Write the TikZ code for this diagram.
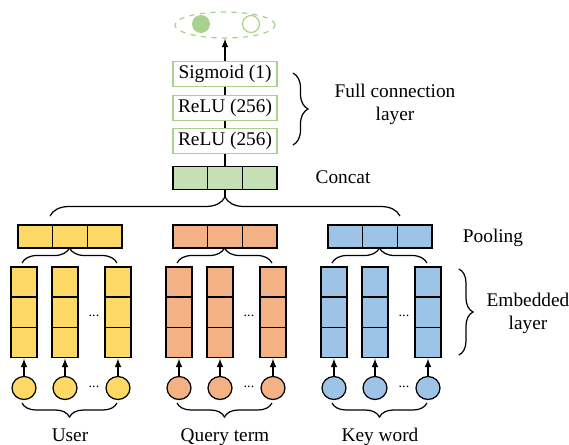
\documentclass[tikz,border=0pt]{standalone}
\usepackage{fontspec}
\setmainfont{Liberation Serif}
\usetikzlibrary{decorations.pathreplacing,shapes.geometric,arrows}

\definecolor{userc}{HTML}{FFD966}
\definecolor{queryc}{HTML}{F4B183}
\definecolor{keyc}{HTML}{9DC3E6}
\definecolor{catc}{HTML}{C5E0B4}
\definecolor{fcline}{HTML}{A9D18E}

\tikzset{
  cell/.style={draw, line width=0.8pt, inner sep=0pt},
  poolcell/.style={cell, minimum width=0.694cm, minimum height=0.46cm},
  embcell/.style={cell, minimum width=0.52cm, minimum height=0.607cm},
  token/.style={draw, line width=0.7pt, ellipse, inner sep=0pt, minimum width=0.48cm, minimum height=0.46cm},
  fcbox/.style={draw=fcline, line width=0.6pt, fill=white, minimum width=2.08cm, minimum height=0.5cm, inner sep=0pt},
  lbl/.style={font=\fontsize{11}{13}\selectfont, align=center},
  brc/.style={decorate, decoration={brace, amplitude=#1}, line width=0.7pt},
}

\begin{document}
\begin{tikzpicture}[x=0.02cm,y=-0.02cm]
  \useasboundingbox (0,0) rectangle (569,444);

  % output
  \node[ellipse, draw=fcline, dashed, line width=0.7pt, minimum width=2cm, minimum height=0.52cm] (out) at (225,25) {};
  \node[circle, fill=fcline, minimum size=0.36cm, inner sep=0pt] (pos) at (201,24) {};
  \node[circle, draw=fcline, line width=0.7pt, minimum size=0.34cm, inner sep=0pt] (neg) at (251,24) {};

  % full connection layer
  \node[fcbox, lbl] (sig) at (225,74) {Sigmoid (1)};
  \node[fcbox, lbl] (relu1) at (225,108) {ReLU (256)};
  \node[fcbox, lbl] (relu2) at (225,141) {ReLU (256)};
  \draw[-latex, line width=0.7pt] (sig) -- (out);
  \draw[line width=0.7pt] (sig) -- (relu1) (relu1) -- (relu2);

  % concat
  \foreach \i/\dx in {1/-34.7,2/0,3/34.7}
    \node[poolcell, fill=catc] (cat\i) at (225+\dx,178) {};
  \draw[line width=0.7pt] (cat2) -- (relu2);
  \coordinate (cattip) at (225,197);
  \draw[line width=0.7pt] (cat2) -- (cattip);
  \draw[brc=0.38cm] (50,216) -- (400,216);

  % labels on the right
  \draw[brc=0.3cm] (293,73) -- (293,145);
  \node[lbl] (fcl) at (395,104) {Full connection\\layer};
  \node[lbl] (catl) at (343,177) {Concat};
  \node[lbl] (pooll) at (493,238) {Pooling};
  \draw[brc=0.28cm] (459,269) -- (459,355);
  \node[lbl] (embl) at (528,313) {Embedded\\layer};

  \foreach \g/\cx/\clr/\name in {u/70/userc/User, q/225/queryc/Query term, k/380/keyc/Key word}{
    % pooling
    \foreach \i/\dx in {1/-34.7,2/0,3/34.7}
      \node[poolcell, fill=\clr] (pool\g\i) at (\cx+\dx,236.5) {};
    \draw[brc=0.3cm] (\cx-48,263) -- (\cx+47,263);
    % embedding + inputs
    \foreach \j/\dx in {1/-46,2/-5,3/48}{
      \foreach \k/\y in {1/282,2/312.3,3/342.6}
        \node[embcell, fill=\clr] (emb\g\j\k) at (\cx+\dx,\y) {};
      \node[token, fill=\clr] (in\g\j) at (\cx+\dx,388) {};
      \draw[-latex, line width=0.7pt] (in\g\j) -- (emb\g\j3);
    }
    \node[font=\fontsize{8}{8}\selectfont] (edots\g) at (\cx+24,316) {...};
    \node[font=\fontsize{8}{8}\selectfont] (idots\g) at (\cx+24,387) {...};
    \draw[brc=0.28cm] (\cx+47,403) -- (\cx-48,403);
    \node[lbl, anchor=base] (lab\g) at (\cx,441) {\name};
  }
\end{tikzpicture}
\end{document}
